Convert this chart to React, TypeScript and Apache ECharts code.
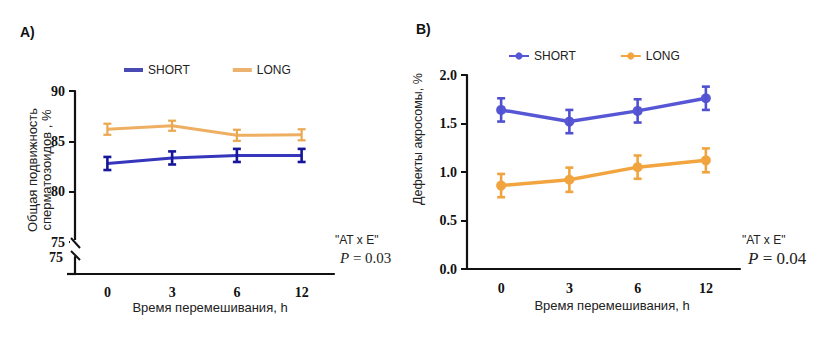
import React, { useEffect, useRef } from "react";
import * as echarts from "echarts";

const categories = ["0", "3", "6", "12"];
const motilityShort = [82.8, 83.35, 83.6, 83.6];
const motilityShortErr = [0.65, 0.65, 0.65, 0.65];
const motilityLong = [86.2, 86.55, 85.6, 85.65];
const motilityLongErr = [0.55, 0.5, 0.55, 0.55];
const acrosomeShort = [1.64, 1.52, 1.63, 1.76];
const acrosomeShortErr = [0.12, 0.12, 0.12, 0.12];
const acrosomeLong = [0.86, 0.92, 1.05, 1.12];
const acrosomeLongErr = [0.12, 0.125, 0.12, 0.123];
const motilityTicks = [75, 80, 85, 90];
const acrosomeTicks = [0, 0.5, 1.0, 1.5, 2.0];

const SERIF = "Liberation Serif";
const SANS = "Liberation Sans";

function errData(v: number[], e: number[]) {
  return v.map((val, i) => [i, val - e[i], val + e[i]]);
}

function errSeries(xi: number, yi: number, data: number[][], color: string, hw: number, lw: number) {
  return {
    type: "custom",
    xAxisIndex: xi,
    yAxisIndex: yi,
    z: 5,
    silent: true,
    encode: { x: 0, y: [1, 2] },
    data,
    renderItem: (params: any, api: any) => {
      const x = api.value(0);
      const lo = api.value(1);
      const hi = api.value(2);
      const p1 = api.coord([x, hi]);
      const p2 = api.coord([x, lo]);
      const style = { stroke: color, lineWidth: lw, fill: null };
      return {
        type: "group",
        children: [
          { type: "line", shape: { x1: p1[0], y1: p1[1], x2: p2[0], y2: p2[1] }, style },
          { type: "line", shape: { x1: p1[0] - hw, y1: p1[1], x2: p1[0] + hw, y2: p1[1] }, style },
          { type: "line", shape: { x1: p2[0] - hw, y1: p2[1], x2: p2[0] + hw, y2: p2[1] }, style },
        ],
      };
    },
  };
}

const axisLineStyle = { color: "#111", width: 2.2 };
const tickLabel = { fontFamily: SERIF, fontWeight: "bold" as const, fontSize: 14, color: "#111" };

export default function App() {
  const ref = useRef<HTMLDivElement>(null);
  useEffect(() => {
    if (!ref.current) return;
    const chart = echarts.init(ref.current, undefined, { renderer: "svg" });
    const option: any = {
      animation: false,
      backgroundColor: "#ffffff",
      legend: [
        {
          left: 119,
          top: 59,
          itemWidth: 19,
          itemHeight: 4,
          itemGap: 43,
          textStyle: { fontFamily: SANS, fontSize: 12, color: "#222" },
          data: [
            { name: "SHORT", icon: "rect", itemStyle: { color: "#4a4ab4" } },
            { name: "LONG", icon: "rect", itemStyle: { color: "#ebb36f" } },
          ],
          selectedMode: false,
        },
        {
          left: 503,
          top: 45,
          itemWidth: 20,
          itemHeight: 9,
          itemGap: 44,
          textStyle: { fontFamily: SANS, fontSize: 12, color: "#222" },
          data: ["SHORT", "LONG"],
          selectedMode: false,
        },
      ],
      grid: [
        { left: 75, top: 91, width: 259, height: 151 },
        { left: 75, top: 257, width: 259, height: 17 },
        { left: 467, top: 75, width: 273, height: 194 },
      ],
      xAxis: [
        { gridIndex: 0, type: "category", data: categories, show: false, boundaryGap: true },
        {
          gridIndex: 1,
          type: "category",
          data: categories,
          boundaryGap: true,
          axisLine: { lineStyle: axisLineStyle },
          axisTick: { alignWithLabel: true, length: 6, lineStyle: { color: "#111", width: 2 } },
          axisLabel: { ...tickLabel, margin: 11 },
        },
        {
          gridIndex: 2,
          type: "category",
          data: categories,
          boundaryGap: true,
          axisLine: { lineStyle: axisLineStyle },
          axisTick: { alignWithLabel: true, length: 6, lineStyle: { color: "#111", width: 2 } },
          axisLabel: { ...tickLabel, margin: 12 },
        },
      ],
      yAxis: [
        {
          gridIndex: 0,
          type: "value",
          min: motilityTicks[0],
          max: motilityTicks[motilityTicks.length - 1],
          interval: 5,
          splitLine: { show: false },
          axisLine: { show: true, lineStyle: axisLineStyle },
          axisTick: { show: true, length: 6, lineStyle: { color: "#111", width: 2 } },
          axisLabel: { ...tickLabel, margin: 10 },
        },
        {
          gridIndex: 1,
          type: "value",
          min: 0,
          max: 1,
          interval: 1,
          splitLine: { show: false },
          axisLine: { show: true, lineStyle: axisLineStyle },
          axisTick: { show: false },
          axisLabel: {
            ...tickLabel,
            margin: 12,
            formatter: (v: number) => (v === 1 ? String(motilityTicks[0]) : ""),
          },
        },
        {
          gridIndex: 2,
          type: "value",
          min: acrosomeTicks[0],
          max: acrosomeTicks[acrosomeTicks.length - 1],
          interval: 0.5,
          splitLine: { show: false },
          axisLine: { show: true, lineStyle: axisLineStyle },
          axisTick: { show: true, length: 6, lineStyle: { color: "#111", width: 2 } },
          axisLabel: { ...tickLabel, margin: 10, formatter: (v: number) => v.toFixed(1) },
        },
      ],
      series: [
        {
          name: "SHORT",
          type: "line",
          xAxisIndex: 2,
          yAxisIndex: 2,
          data: acrosomeShort,
          symbol: "circle",
          symbolSize: 10,
          itemStyle: { color: "#5757d6" },
          lineStyle: { color: "#5757d6", width: 3.5 },
          z: 3,
        },
        {
          name: "LONG",
          type: "line",
          xAxisIndex: 2,
          yAxisIndex: 2,
          data: acrosomeLong,
          symbol: "circle",
          symbolSize: 10,
          itemStyle: { color: "#f2a43e" },
          lineStyle: { color: "#f2a43e", width: 3.5 },
          z: 3,
        },
        {
          name: "SHORT",
          type: "line",
          xAxisIndex: 0,
          yAxisIndex: 0,
          data: motilityShort,
          symbol: "none",
          itemStyle: { color: "#3636bc" },
          lineStyle: { color: "#3636bc", width: 3 },
          z: 3,
        },
        {
          name: "LONG",
          type: "line",
          xAxisIndex: 0,
          yAxisIndex: 0,
          data: motilityLong,
          symbol: "none",
          itemStyle: { color: "#eeaf62" },
          lineStyle: { color: "#eeaf62", width: 3 },
          z: 3,
        },
        errSeries(0, 0, errData(motilityShort, motilityShortErr), "#16169a", 4, 2.6),
        errSeries(0, 0, errData(motilityLong, motilityLongErr), "#eaa850", 4, 2.2),
        errSeries(2, 2, errData(acrosomeShort, acrosomeShortErr), "#5050d0", 4, 2.6),
        errSeries(2, 2, errData(acrosomeLong, acrosomeLongErr), "#f0a440", 4, 2.6),
      ],
      graphic: [
        { type: "text", x: 20, y: 32, style: { text: "A)", font: `bold 14px ${SANS}`, fill: "#111", verticalAlign: "middle" } },
        { type: "text", x: 416, y: 29, style: { text: "B)", font: `bold 14px ${SANS}`, fill: "#111", verticalAlign: "middle" } },
        {
          type: "text",
          x: 39,
          y: 170,
          rotation: Math.PI / 2,
          style: {
            text: "Общая подвижность\nсперматозоидов , %",
            font: `13px ${SANS}`,
            lineHeight: 14,
            fill: "#222",
            align: "center",
            verticalAlign: "middle",
          },
        },
        {
          type: "text",
          x: 418,
          y: 139,
          rotation: Math.PI / 2,
          style: { text: "Дефекты акросомы, %", font: `12.5px ${SANS}`, fill: "#222", align: "center", verticalAlign: "middle" },
        },
        {
          type: "text",
          x: 210,
          y: 307,
          style: { text: "Время перемешивания, h", font: `13px ${SANS}`, fill: "#222", align: "center", verticalAlign: "middle" },
        },
        {
          type: "text",
          x: 612,
          y: 305,
          style: { text: "Время перемешивания, h", font: `13px ${SANS}`, fill: "#222", align: "center", verticalAlign: "middle" },
        },
        { type: "text", x: 335, y: 240, style: { text: '"AT x E"', font: `12px ${SANS}`, fill: "#222", verticalAlign: "middle" } },
        {
          type: "text",
          x: 340,
          y: 258,
          style: {
            text: "{i|P} = 0.03",
            font: `15px ${SERIF}`,
            fill: "#222",
            verticalAlign: "middle",
            rich: { i: { fontStyle: "italic", fontFamily: SERIF, fontSize: 15, fill: "#222" } },
          },
        },
        { type: "text", x: 742, y: 240, style: { text: '"AT x E"', font: `12px ${SANS}`, fill: "#222", verticalAlign: "middle" } },
        {
          type: "text",
          x: 748,
          y: 258,
          style: {
            text: "{i|P} = 0.04",
            font: `17px ${SERIF}`,
            fill: "#222",
            verticalAlign: "middle",
            rich: { i: { fontStyle: "italic", fontFamily: SERIF, fontSize: 17, fill: "#222" } },
          },
        },
        { type: "rect", shape: { x: 70, y: 240, width: 10, height: 16 }, style: { fill: "#fff" }, z: 50 },
        { type: "line", shape: { x1: 71, y1: 238, x2: 80, y2: 248 }, style: { stroke: "#111", lineWidth: 2 }, z: 51 },
        { type: "line", shape: { x1: 71, y1: 251, x2: 80, y2: 260 }, style: { stroke: "#111", lineWidth: 2 }, z: 51 },
        { type: "line", shape: { x1: 67, y1: 274, x2: 76, y2: 274 }, style: { stroke: "#111", lineWidth: 2.2 }, z: 51 },
      ],
    };
    chart.setOption(option);
    return () => chart.dispose();
  }, []);
  return (
    <div
      ref={ref}
      style={{ position: "fixed", left: 0, top: 0, width: 820, height: 347, background: "#fff" }}
    />
  );
}
